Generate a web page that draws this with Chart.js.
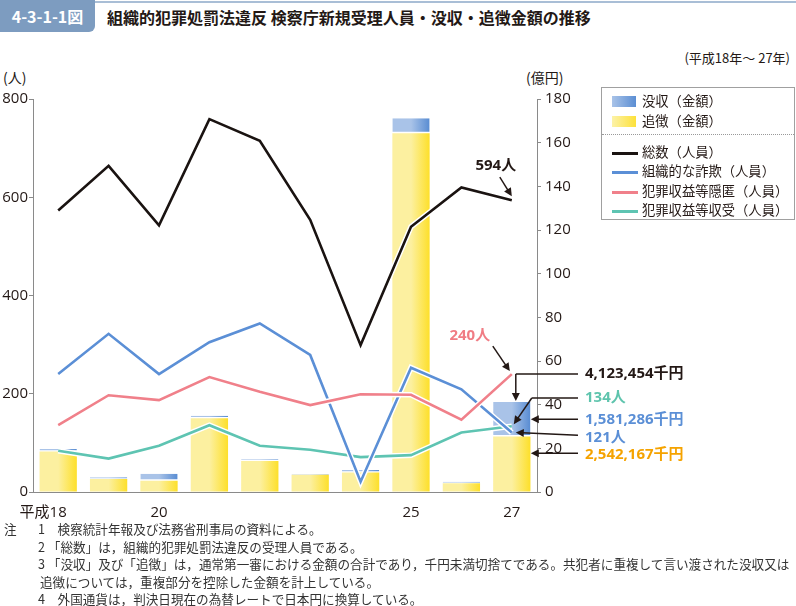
<!DOCTYPE html>
<html lang="ja">
<head>
<meta charset="utf-8">
<title>4-3-1-1図</title>
<script src="https://cdn.jsdelivr.net/npm/chart.js@4.4.1/dist/chart.umd.min.js"></script>
<style>
    body{margin:0;width:796px;height:606px;position:relative;background:#fff;overflow:hidden;
        font-family:"Noto Sans CJK JP",sans-serif;color:#231815;}
    #Grafico1{position:absolute;left:0;top:0;}
    .tab{position:absolute;left:0;top:0;width:95px;height:32px;background:#7d9cc0;border-radius:0 0 6px 0;
        color:#fff;font-weight:bold;font-size:16px;line-height:32px;text-align:center;}
    .rayaTop{position:absolute;left:95px;top:1px;width:701px;height:2px;background:#a9bed6;}
    .titulo{position:absolute;left:107px;top:5px;font-size:16px;font-weight:bold;white-space:nowrap;}
    .periodo{position:absolute;right:6px;top:48px;font-size:13px;}
    .unidad{position:absolute;top:67px;font-size:14px;}
    .leyenda{position:absolute;left:601px;top:87px;width:192px;height:131px;border:1px solid #a0a0a0;font-size:13.3px;}
    .leyenda div{position:absolute;left:40px;white-space:nowrap;line-height:16px;}
    .leyenda span{position:absolute;left:10px;}
    .leyenda .sep{position:absolute;left:0;top:46px;width:192px;height:0;border-top:1px dotted #999;}
    .notas{position:absolute;left:0;top:521px;font-size:12.6px;color:#333;}
    .notas div{position:absolute;white-space:nowrap;line-height:16px;}
</style>
</head>
<body>
<div class="rayaTop"></div>
<div class="tab">4-3-1-1図</div>
<div class="titulo">組織的犯罪処罰法違反 検察庁新規受理人員・没収・追徴金額の推移</div>
<div class="periodo">(平成18年～ 27年)</div>
<div class="unidad" style="left:3px">(人)</div>
<div class="unidad" style="left:526px">(億円)</div>
<canvas id="Grafico1" width="796" height="606"></canvas>
<div class="leyenda">
    <span style="top:8px;width:24px;height:11px;background:linear-gradient(to right,#a9c3e8,#5b8ed3)"></span>
    <div style="top:5px">没収（金額）</div>
    <span style="top:28px;width:24px;height:11px;background:linear-gradient(to right,#fcf2a8,#fde13a)"></span>
    <div style="top:25px">追徴（金額）</div>
    <span class="sep"></span>
    <span style="top:64px;width:26px;height:2.5px;background:#1a1311"></span>
    <div style="top:56px">総数（人員）</div>
    <span style="top:83px;width:26px;height:2.5px;background:#5b8fd6"></span>
    <div style="top:75px">組織的な詐欺（人員）</div>
    <span style="top:103px;width:26px;height:2.5px;background:#f0808a"></span>
    <div style="top:95px">犯罪収益等隠匿（人員）</div>
    <span style="top:122px;width:26px;height:2.5px;background:#5ec4b2"></span>
    <div style="top:114px">犯罪収益等収受（人員）</div>
</div>
<div class="notas">
    <div style="left:4px;top:0">注</div>
    <div style="left:38px;top:0">1　検察統計年報及び法務省刑事局の資料による。</div>
    <div style="left:38px;top:17.5px">2 「総数」は，組織的犯罪処罰法違反の受理人員である。</div>
    <div style="left:38px;top:35px">3 「没収」及び「追徴」は，通常第一審における金額の合計であり，千円未満切捨てである。共犯者に重複して言い渡された没収又は</div>
    <div style="left:40px;top:52.5px">追徴については，重複部分を控除した金額を計上している。</div>
    <div style="left:38px;top:70px">4　外国通貨は，判決日現在の為替レートで日本円に換算している。</div>
</div>
<script>
// 平成18年～27年
const anios = ['平成18　　','19','20','21','22','23','24','25','26','27'];
const mostrarAnio = [true,false,true,false,false,false,false,true,false,true];
// 人員（左軸）
const totalPersonas = [573, 664, 543, 759, 715, 554, 299, 540, 620, 594];
const fraude = [240, 322, 240, 305, 343, 279, 21, 253, 209, 121];
const ocultamiento = [136, 197, 187, 234, 204, 177, 199, 198, 147, 240];
const recepcion = [84, 68, 94, 136, 94, 86, 71, 75, 121, 134];
// 金額（右軸・億円）
const cobro = [18.6, 5.9, 5.2, 33.8, 14.2, 7.9, 8.9, 164.3, 4.0, 25.42167];
const decomiso = [1.1, 0.9, 3.2, 1.1, 0.8, 0.3, 1.2, 6.9, 0.7, 15.81286];
const ticksPersonas = [0, 200, 400, 600, 800];
const ticksMonto = [0, 20, 40, 60, 80, 100, 120, 140, 160, 180];
const montoTotal = '4,123,454千円';
const montoDecomiso = '1,581,286千円';
const montoCobro = '2,542,167千円';

const fuenteNum = '"Open Sans","Noto Sans CJK JP",sans-serif';

function degradado(c, izq, der){
    let chart = c.chart;
    if(!chart.chartArea) return der;
    let x = chart.scales.x.getPixelForValue(c.dataIndex);
    let g = chart.ctx.createLinearGradient(x-18, 0, x+18, 0);
    g.addColorStop(0, izq);
    g.addColorStop(0.5, izq);
    g.addColorStop(1, der);
    return g;
}

function flecha(ctx, x1, y1, x2, y2, color){
    let ang = Math.atan2(y2-y1, x2-x1);
    let largo = 8, ancho = 4;
    ctx.save();
    ctx.strokeStyle = color;
    ctx.fillStyle = color;
    ctx.lineWidth = 1.5;
    ctx.beginPath();
    ctx.moveTo(x1, y1);
    ctx.lineTo(x2 - Math.cos(ang)*largo*0.8, y2 - Math.sin(ang)*largo*0.8);
    ctx.stroke();
    ctx.beginPath();
    ctx.moveTo(x2, y2);
    ctx.lineTo(x2 - Math.cos(ang)*largo - Math.sin(ang)*ancho, y2 - Math.sin(ang)*largo + Math.cos(ang)*ancho);
    ctx.lineTo(x2 - Math.cos(ang)*largo + Math.sin(ang)*ancho, y2 - Math.sin(ang)*largo - Math.cos(ang)*ancho);
    ctx.closePath();
    ctx.fill();
    ctx.restore();
}

// 白い縁取り（線の下）
const halo = {
    id: 'halo',
    beforeDatasetDraw(chart, args){
        let meta = args.meta;
        if(meta.type !== 'line') return;
        let ctx = chart.ctx;
        ctx.save();
        ctx.strokeStyle = '#fff';
        ctx.lineWidth = 5.5;
        ctx.beginPath();
        meta.data.forEach((p, i) => { if(i==0){ ctx.moveTo(p.x, p.y); } else { ctx.lineTo(p.x, p.y); } });
        ctx.stroke();
        ctx.restore();
    }
};

// 注記
const notas = {
    id: 'notas',
    afterDraw(chart){
        let ctx = chart.ctx;
        let sx = chart.scales.x, sy = chart.scales.y, sy1 = chart.scales.y1;
        let u = anios.length - 1;
        let px = sx.getPixelForValue(u);
        let derBarra = px + 18;
        let yTotal = sy.getPixelForValue(totalPersonas[u]);
        let yOcul = sy.getPixelForValue(ocultamiento[u]);
        let yRec = sy.getPixelForValue(recepcion[u]);
        let yFra = sy.getPixelForValue(fraude[u]);
        let yTop = sy1.getPixelForValue(cobro[u] + decomiso[u]);
        let yDec = sy1.getPixelForValue(cobro[u] + decomiso[u]/2);
        let yCob = yDec + 34;
        let xt = 585;
        ctx.save();
        ctx.textBaseline = 'middle';
        ctx.font = 'bold 15px ' + fuenteNum;
        // 594人
        ctx.fillStyle = '#231815';
        ctx.textAlign = 'center';
        ctx.fillText(totalPersonas[u] + '人', px - 16, yTotal - 34);
        flecha(ctx, px - 12, yTotal - 23, px, yTotal - 4, '#231815');
        // 240人
        ctx.fillStyle = '#f07c84';
        ctx.fillText(ocultamiento[u] + '人', px - 42, yOcul - 38);
        flecha(ctx, px - 19, yOcul - 28, px - 2, yOcul - 3, '#231815');
        ctx.textAlign = 'left';
        // 合計金額
        ctx.fillStyle = '#231815';
        ctx.fillText(montoTotal, xt, yOcul);
        ctx.strokeStyle = '#231815';
        ctx.lineWidth = 1.5;
        ctx.beginPath();
        ctx.moveTo(xt - 7, yOcul);
        ctx.lineTo(px + 4, yOcul);
        ctx.stroke();
        flecha(ctx, px + 4, yOcul, px + 4, yTop - 1, '#231815');
        // 134人
        let y134 = yTop - 4;
        ctx.fillStyle = '#5ec4ad';
        ctx.fillText(recepcion[u] + '人', xt, y134);
        ctx.beginPath();
        ctx.moveTo(xt - 7, y134);
        ctx.lineTo(derBarra + 2, y134);
        ctx.stroke();
        flecha(ctx, derBarra + 2, y134, px + 2, yRec - 2, '#231815');
        // 没収
        ctx.fillStyle = '#5b8fd6';
        ctx.fillText(montoDecomiso, xt, yDec + 1);
        flecha(ctx, xt - 7, yDec, derBarra + 1, yDec, '#231815');
        // 121人
        ctx.fillText(fraude[u] + '人', xt, yDec + 19);
        flecha(ctx, xt - 7, yDec + 16, px + 4, yFra, '#231815');
        // 追徴
        ctx.fillStyle = '#f5a300';
        ctx.fillText(montoCobro, xt, yCob + 2);
        flecha(ctx, xt - 7, yCob, derBarra + 1, yCob, '#231815');
        ctx.restore();
    }
};

let CanvasG1 = document.getElementById('Grafico1').getContext('2d');
let datos = {
    labels: anios,
    datasets: [
        {type:'line', label:'総数（人員）', data: totalPersonas, yAxisID:'y', borderColor:'#1a1311', borderWidth:2.6, pointRadius:0, tension:0, order:1},
        {type:'line', label:'組織的な詐欺（人員）', data: fraude, yAxisID:'y', borderColor:'#5b8fd6', borderWidth:2.6, pointRadius:0, tension:0, order:3},
        {type:'line', label:'犯罪収益等隠匿（人員）', data: ocultamiento, yAxisID:'y', borderColor:'#f0808a', borderWidth:2.6, pointRadius:0, tension:0, order:2},
        {type:'line', label:'犯罪収益等収受（人員）', data: recepcion, yAxisID:'y', borderColor:'#5ec4b2', borderWidth:2.6, pointRadius:0, tension:0, order:4},
        {type:'bar', label:'追徴（金額）', data: cobro, yAxisID:'y1', stack:'m',
            backgroundColor: c => degradado(c, '#fcf0a0', '#fde02e'), order:10,
            barPercentage:0.74, categoryPercentage:1},
        {type:'bar', label:'没収（金額）', data: decomiso, yAxisID:'y1', stack:'m',
            backgroundColor: c => degradado(c, '#a9c3e8', '#5b8ed3'), order:10,
            borderColor:'#fff', borderWidth:{top:0,left:0,right:0,bottom:1.5}, borderSkipped:false,
            barPercentage:0.74, categoryPercentage:1}
    ]
};
let opciones = {
    responsive: false,
    animation: false,
    layout: {padding: {top: 99, right: 209, bottom: 84, left: 0}},
    plugins: {legend: {display: false}, tooltip: {enabled: false}},
    scales: {
        x: {
            stacked: true,
            grid: {display: false},
            border: {display: true, color: '#8a8a8a', width: 1},
            ticks: {
                color: '#231815', font: {family: fuenteNum, size: 15}, padding: 4, maxRotation: 0, autoSkip: false,
                callback: function(v, i){ return mostrarAnio[i] ? anios[i] : ''; }
            },
            afterFit: function(s){ s.height = 30; }
        },
        y: {
            position: 'left', min: 0, max: 800,
            afterBuildTicks: function(s){ s.ticks = ticksPersonas.map(v => ({value: v})); },
            grid: {drawOnChartArea: false, drawTicks: true, tickLength: 4, color: '#8a8a8a'},
            border: {display: true, color: '#8a8a8a', width: 1},
            ticks: {color: '#231815', font: {family: fuenteNum, size: 15}, padding: 1},
            afterFit: function(s){ s.width = 33; }
        },
        y1: {
            position: 'right', min: 0, max: 180, stacked: true,
            afterBuildTicks: function(s){ s.ticks = ticksMonto.map(v => ({value: v})); },
            grid: {drawOnChartArea: false, drawTicks: true, tickLength: 4, color: '#8a8a8a'},
            border: {display: true, color: '#8a8a8a', width: 1},
            ticks: {color: '#231815', font: {family: fuenteNum, size: 15}, padding: 4},
            afterFit: function(s){ s.width = 50; }
        }
    }
};
let G1 = new Chart(CanvasG1, {
    type: 'bar',
    data: datos,
    options: opciones,
    plugins: [halo, notas]
});
</script>
</body>
</html>
